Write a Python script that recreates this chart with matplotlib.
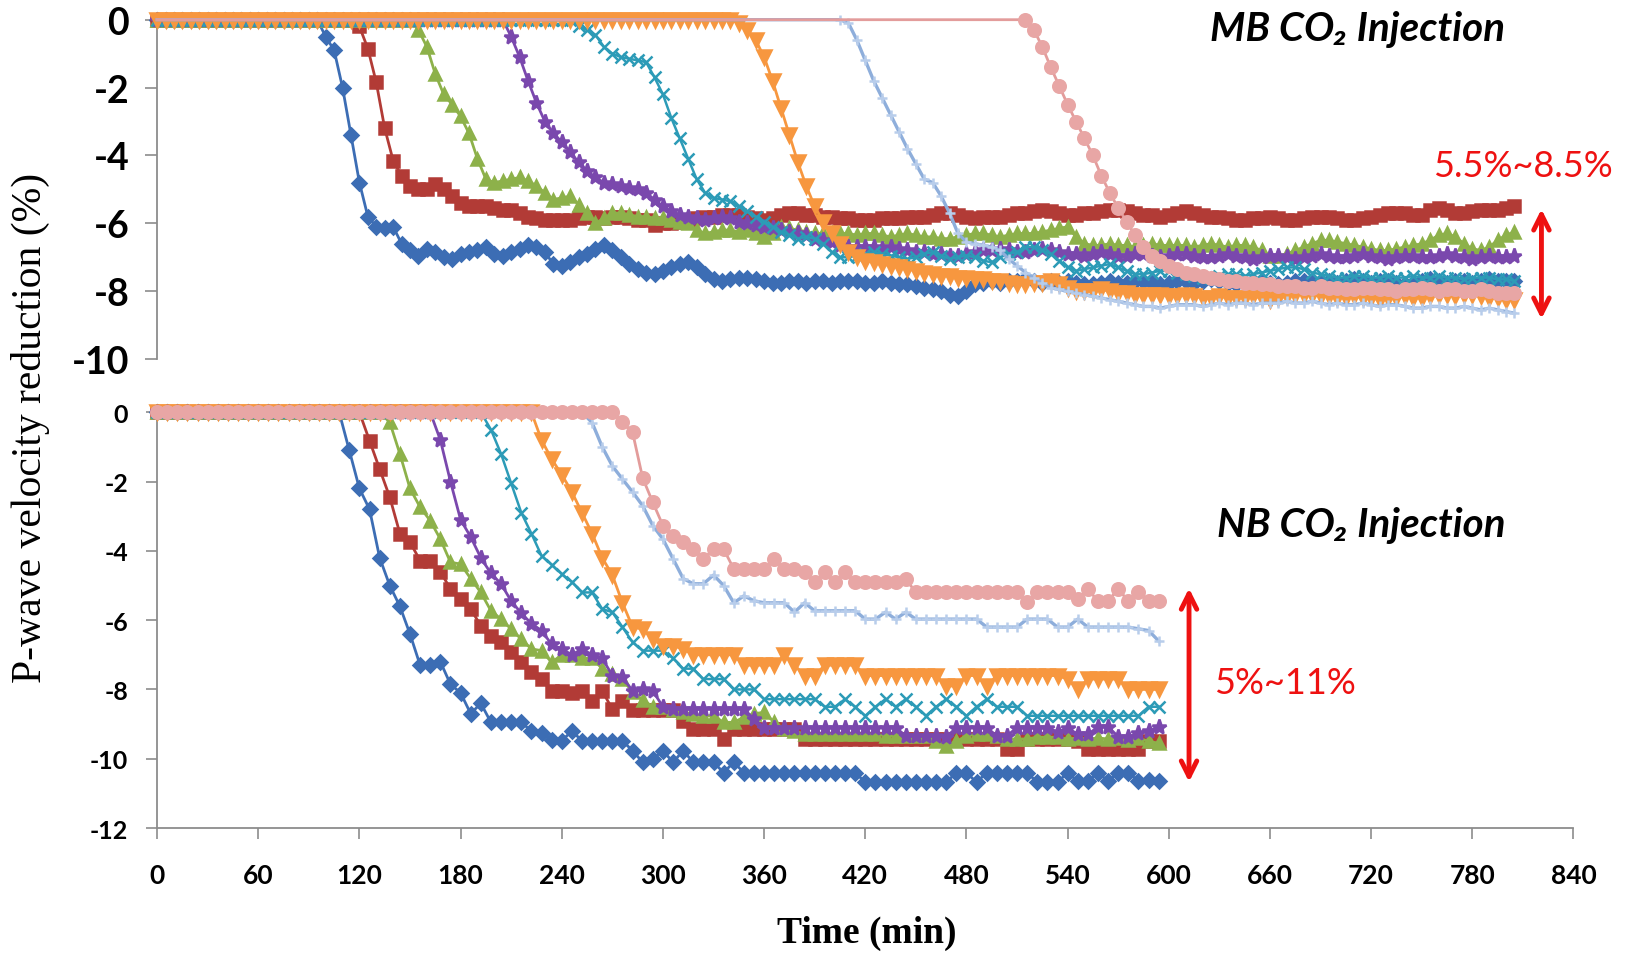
import matplotlib
matplotlib.use('Agg')
import matplotlib.pyplot as plt
import numpy as np
from matplotlib.patches import FancyArrowPatch

plt.rcParams['axes.unicode_minus'] = False

# logging intervals (min)
dt_mb = 5
dt_nb = 6

# ---- MB CO2 injection : P-wave velocity reduction (%) ----
mb_blue = [0.0]*20 + [
    -0.5, -0.9, -2.0, -3.4, -4.8, -5.8, -6.1, -6.15, -6.1, -6.6,
    -6.8, -6.95, -6.75, -6.85, -7.0, -7.05, -6.9, -6.85, -6.8, -6.7,
    -6.9, -6.95, -6.85, -6.75, -6.65, -6.7, -6.85, -7.2, -7.25, -7.15,
    -7.0, -6.9, -6.75, -6.65, -6.8, -7.0, -7.2, -7.35, -7.45, -7.5,
    -7.4, -7.3, -7.2, -7.15, -7.3, -7.5, -7.65, -7.7, -7.65, -7.6,
    -7.6, -7.65, -7.7, -7.75, -7.75, -7.7, -7.7, -7.75, -7.7, -7.7,
    -7.75, -7.7, -7.7, -7.7, -7.75, -7.75, -7.7, -7.75, -7.8, -7.8,
    -7.85, -7.9, -7.95, -8.0, -8.1, -8.15, -8.0, -7.8, -7.75, -7.7,
    -7.75, -7.7, -7.7, -7.65, -7.7, -7.75, -7.7, -7.75, -7.7, -7.75,
    -7.8, -7.8, -7.75, -7.7, -7.75, -7.75, -7.7, -7.7, -7.75, -7.8,
    -7.75, -7.7, -7.7, -7.75, -7.7, -7.65, -7.7, -7.75, -7.8, -7.75,
    -7.7, -7.7, -7.75, -7.8, -7.75, -7.7, -7.7, -7.75, -7.7, -7.7,
    -7.75, -7.7, -7.65, -7.7, -7.75, -7.7, -7.7, -7.75, -7.8, -7.75,
    -7.7, -7.65, -7.7, -7.75, -7.7, -7.7, -7.75, -7.7, -7.65, -7.7,
    -7.7, -7.7]
mb_red = [0.0]*24 + [
    -0.2, -0.85, -1.85, -3.2, -4.15, -4.6, -4.9, -5.0, -5.0, -4.85,
    -5.0, -5.2, -5.4, -5.5, -5.5, -5.5, -5.55, -5.6, -5.6, -5.7,
    -5.8, -5.85, -5.9, -5.9, -5.9, -5.9, -5.85, -5.8, -5.8, -5.85,
    -5.8, -5.8, -5.85, -5.9, -5.9, -6.05, -6.0, -6.0, -5.95, -5.9,
    -5.85, -5.8, -5.8, -5.75, -5.75, -5.75, -5.8, -5.85, -5.9, -5.85,
    -5.75, -5.7, -5.7, -5.75, -5.75, -5.8, -5.8, -5.85, -5.85, -5.9,
    -5.9, -5.9, -5.85, -5.85, -5.85, -5.8, -5.8, -5.8, -5.75, -5.7,
    -5.7, -5.75, -5.8, -5.85, -5.8, -5.8, -5.8, -5.75, -5.7, -5.7,
    -5.65, -5.6, -5.65, -5.7, -5.75, -5.75, -5.7, -5.7, -5.65, -5.6,
    -5.6, -5.65, -5.7, -5.75, -5.75, -5.8, -5.75, -5.7, -5.65, -5.7,
    -5.75, -5.8, -5.8, -5.85, -5.9, -5.9, -5.85, -5.85, -5.8, -5.85,
    -5.9, -5.9, -5.85, -5.8, -5.8, -5.8, -5.85, -5.9, -5.9, -5.85,
    -5.8, -5.75, -5.7, -5.7, -5.7, -5.75, -5.75, -5.6, -5.55, -5.6,
    -5.7, -5.7, -5.65, -5.6, -5.6, -5.6, -5.55, -5.5]
mb_green = [0.0]*31 + [
    -0.3, -0.8, -1.6, -2.2, -2.5, -2.85, -3.35, -4.1, -4.7, -4.8,
    -4.75, -4.7, -4.65, -4.75, -4.9, -5.1, -5.3, -5.25, -5.2, -5.45,
    -5.7, -6.0, -5.85, -5.7, -5.7, -5.75, -5.8, -5.8, -5.85, -5.85,
    -5.9, -5.95, -6.0, -6.2, -6.3, -6.25, -6.2, -6.2, -6.25, -6.2,
    -6.3, -6.4, -6.3, -6.1, -6.15, -6.2, -6.25, -6.3, -6.3, -6.3,
    -6.3, -6.3, -6.35, -6.3, -6.3, -6.35, -6.4, -6.35, -6.3, -6.35,
    -6.4, -6.4, -6.45, -6.45, -6.4, -6.35, -6.3, -6.3, -6.35, -6.4,
    -6.35, -6.3, -6.3, -6.3, -6.25, -6.2, -6.15, -6.1, -6.4, -6.6,
    -6.65, -6.65, -6.6, -6.65, -6.65, -6.7, -6.65, -6.6, -6.65, -6.65,
    -6.65, -6.65, -6.7, -6.65, -6.6, -6.65, -6.7, -6.65, -6.65, -6.7,
    -6.8, -6.95, -6.95, -6.9, -6.8, -6.7, -6.6, -6.5, -6.5, -6.55,
    -6.6, -6.65, -6.7, -6.75, -6.8, -6.8, -6.75, -6.7, -6.65, -6.6,
    -6.5, -6.35, -6.3, -6.4, -6.6, -6.75, -6.8, -6.7, -6.5, -6.35,
    -6.25]
mb_purple = [0.0]*42 + [
    -0.5, -1.1, -1.8, -2.45, -3.0, -3.35, -3.6, -3.9, -4.2, -4.45,
    -4.65, -4.8, -4.85, -4.9, -4.95, -5.0, -5.1, -5.3, -5.5, -5.65,
    -5.75, -5.8, -5.85, -5.9, -5.85, -5.8, -5.85, -5.95, -6.0, -6.05,
    -6.1, -6.15, -6.2, -6.25, -6.3, -6.35, -6.45, -6.5, -6.55, -6.65,
    -6.7, -6.7, -6.7, -6.7, -6.75, -6.7, -6.75, -6.8, -6.85, -6.85,
    -6.9, -6.9, -6.95, -6.95, -6.9, -6.85, -6.8, -6.8, -6.75, -6.8,
    -6.85, -6.85, -6.8, -6.75, -6.8, -6.85, -6.9, -6.9, -6.95, -6.9,
    -6.85, -6.9, -6.95, -6.95, -6.9, -6.9, -6.95, -7.0, -6.95, -6.9,
    -6.9, -6.95, -7.0, -7.0, -6.95, -6.9, -6.95, -7.0, -7.05, -7.0,
    -6.95, -6.95, -7.0, -7.05, -7.0, -6.95, -6.9, -6.95, -7.0, -7.0,
    -6.95, -6.9, -6.95, -7.0, -7.05, -7.0, -6.95, -6.95, -7.0, -7.0,
    -6.95, -6.9, -6.95, -7.0, -7.05, -7.0, -6.95, -7.0, -7.0, -6.95]
mb_teal = [0.0]*50 + [
    -0.2, -0.3, -0.45, -0.8, -1.0, -1.1, -1.15, -1.2, -1.25, -1.7,
    -2.2, -2.9, -3.5, -4.1, -4.7, -5.1, -5.25, -5.3, -5.35, -5.5,
    -5.65, -5.8, -5.95, -6.1, -6.25, -6.35, -6.45, -6.4, -6.45, -6.6,
    -6.85, -7.0, -7.0, -6.95, -6.9, -6.85, -6.9, -6.95, -7.0, -7.05,
    -7.0, -6.9, -6.85, -6.95, -7.05, -7.0, -6.95, -7.0, -7.1, -7.15,
    -7.0, -6.9, -6.85, -6.7, -6.7, -6.8, -6.9, -7.1, -7.3, -7.4,
    -7.35, -7.3, -7.25, -7.2, -7.3, -7.4, -7.5, -7.5, -7.45, -7.4,
    -7.4, -7.45, -7.5, -7.55, -7.6, -7.6, -7.55, -7.5, -7.5, -7.55,
    -7.5, -7.45, -7.4, -7.35, -7.3, -7.3, -7.35, -7.45, -7.5, -7.55,
    -7.6, -7.6, -7.55, -7.55, -7.6, -7.6, -7.55, -7.6, -7.6, -7.55,
    -7.6, -7.6, -7.55, -7.6, -7.6, -7.65, -7.6, -7.6, -7.6, -7.65,
    -7.65, -7.7]
mb_orange = [0.0]*69 + [
    -0.1, -0.3, -0.6, -1.1, -1.8, -2.6, -3.4, -4.2, -4.9, -5.5,
    -5.95, -6.3, -6.6, -6.85, -7.0, -7.1, -7.15, -7.2, -7.25, -7.3,
    -7.35, -7.4, -7.45, -7.5, -7.55, -7.55, -7.6, -7.6, -7.65, -7.65,
    -7.7, -7.7, -7.75, -7.8, -7.8, -7.75, -7.75, -7.7, -7.8, -7.9,
    -8.0, -8.0, -8.0, -7.95, -8.0, -8.05, -8.05, -8.1, -8.1, -8.1,
    -8.1, -8.15, -8.15, -8.1, -8.15, -8.2, -8.2, -8.15, -8.2, -8.2,
    -8.2, -8.15, -8.2, -8.25, -8.2, -8.15, -8.1, -8.1, -8.1, -8.15,
    -8.15, -8.2, -8.2, -8.15, -8.2, -8.2, -8.25, -8.2, -8.2, -8.15,
    -8.2, -8.2, -8.15, -8.1, -8.1, -8.15, -8.1, -8.1, -8.15, -8.2,
    -8.2, -8.25, -8.25]
mb_lightblue = [0.0]*82 + [
    -0.1, -0.6, -1.2, -1.8, -2.3, -2.8, -3.3, -3.8, -4.25, -4.7,
    -4.8, -5.2, -5.7, -6.3, -6.55, -6.6, -6.65, -6.7, -6.8, -7.05,
    -7.25, -7.45, -7.6, -7.75, -7.9, -7.95, -8.0, -8.05, -8.1, -8.15,
    -8.2, -8.25, -8.3, -8.35, -8.4, -8.45, -8.45, -8.5, -8.45, -8.4,
    -8.4, -8.4, -8.45, -8.4, -8.35, -8.4, -8.35, -8.35, -8.4, -8.35,
    -8.35, -8.35, -8.3, -8.35, -8.35, -8.3, -8.35, -8.4, -8.35, -8.4,
    -8.4, -8.35, -8.4, -8.45, -8.4, -8.4, -8.45, -8.5, -8.5, -8.45,
    -8.45, -8.5, -8.5, -8.45, -8.5, -8.55, -8.5, -8.55, -8.6, -8.65]
mb_pink = [0.0]*104 + [
    -0.3, -0.8, -1.4, -1.95, -2.5, -3.0, -3.5, -4.0, -4.6, -5.1,
    -5.55, -5.95, -6.35, -6.7, -6.95, -7.1, -7.25, -7.35, -7.45, -7.5,
    -7.55, -7.6, -7.65, -7.7, -7.7, -7.75, -7.75, -7.8, -7.8, -7.85,
    -7.85, -7.85, -7.9, -7.9, -7.85, -7.9, -7.9, -7.95, -7.95, -7.9,
    -7.9, -7.95, -7.95, -8.0, -7.95, -7.95, -7.9, -7.95, -8.0, -7.95,
    -7.95, -8.0, -8.0, -7.95, -8.0, -8.05, -8.05, -8.05]

# ---- NB CO2 injection : P-wave velocity reduction (%) ----
nb_blue = [0.0]*19 + [
    -1.1, -2.2, -2.8, -4.2, -5.0, -5.6, -6.4, -7.3, -7.3, -7.2,
    -7.85, -8.1, -8.7, -8.4, -8.95, -8.95, -8.95, -8.95, -9.2, -9.25,
    -9.45, -9.48, -9.2, -9.48, -9.48, -9.48, -9.48, -9.48, -9.77, -10.1,
    -10.0, -9.77, -10.1, -9.77, -10.1, -10.1, -10.1, -10.4, -10.1, -10.4,
    -10.4, -10.4, -10.4, -10.4, -10.4, -10.4, -10.4, -10.4, -10.4, -10.4,
    -10.4, -10.68, -10.68, -10.68, -10.68, -10.68, -10.68, -10.68, -10.68, -10.68,
    -10.4, -10.4, -10.68, -10.4, -10.4, -10.4, -10.4, -10.4, -10.68, -10.68,
    -10.68, -10.4, -10.65, -10.65, -10.4, -10.65, -10.4, -10.4, -10.65, -10.6, -10.65]
nb_red = [0.0]*21 + [
    -0.82, -1.64, -2.45, -3.5, -3.75, -4.28, -4.28, -4.6, -5.1, -5.4,
    -5.68, -6.16, -6.45, -6.64, -6.93, -7.22, -7.5, -7.7, -8.04, -8.04,
    -8.1, -8.04, -8.33, -8.04, -8.57, -8.33, -8.6, -8.6, -8.6, -8.6,
    -8.6, -8.9, -9.14, -9.14, -9.14, -9.43, -9.14, -9.14, -9.14, -9.14,
    -9.14, -9.14, -9.14, -9.43, -9.43, -9.43, -9.43, -9.43, -9.43, -9.43,
    -9.43, -9.43, -9.43, -9.43, -9.43, -9.43, -9.43, -9.43, -9.43, -9.43,
    -9.43, -9.43, -9.43, -9.72, -9.72, -9.43, -9.43, -9.43, -9.43, -9.43,
    -9.5, -9.72, -9.72, -9.72, -9.72, -9.72, -9.72, -9.5, -9.5]
nb_green = [0.0]*23 + [
    -0.29, -1.2, -2.2, -2.74, -3.13, -3.66, -4.33, -4.38, -4.8, -5.2,
    -5.73, -5.97, -6.26, -6.55, -6.83, -6.88, -7.22, -7.0, -7.0, -7.1,
    -7.1, -7.4, -7.55, -7.7, -8.08, -8.3, -8.5, -8.5, -8.6, -8.66,
    -8.7, -8.76, -8.76, -8.95, -8.95, -8.8, -8.7, -8.66, -8.95, -9.14,
    -9.2, -9.29, -9.29, -9.29, -9.29, -9.29, -9.29, -9.29, -9.29, -9.34,
    -9.34, -9.34, -9.34, -9.34, -9.5, -9.62, -9.5, -9.34, -9.29, -9.29,
    -9.34, -9.43, -9.43, -9.43, -9.38, -9.38, -9.38, -9.43, -9.4, -9.43,
    -9.4, -9.43, -9.4, -9.45, -9.4, -9.5, -9.55]
nb_purple = [0.0]*28 + [
    -0.8, -2.0, -3.1, -3.6, -4.2, -4.65, -4.95, -5.45, -5.8, -6.1,
    -6.3, -6.7, -6.83, -7.0, -6.83, -7.0, -7.1, -7.6, -7.65, -8.04,
    -8.0, -8.04, -8.5, -8.57, -8.57, -8.57, -8.57, -8.57, -8.57, -8.57,
    -8.57, -8.85, -9.1, -9.1, -9.1, -9.1, -9.1, -9.1, -9.1, -9.1,
    -9.1, -9.1, -9.1, -9.1, -9.1, -9.1, -9.34, -9.34, -9.34, -9.34,
    -9.38, -9.1, -9.1, -9.1, -9.1, -9.34, -9.34, -9.1, -9.1, -9.1,
    -9.1, -9.24, -9.1, -9.3, -9.3, -9.08, -9.08, -9.36, -9.36, -9.27,
    -9.2, -9.08]
nb_teal = [0.0]*33 + [
    -0.5, -1.2, -2.05, -2.9, -3.5, -4.14, -4.4, -4.67, -4.9, -5.2,
    -5.2, -5.68, -5.77, -6.2, -6.64, -6.88, -6.88, -6.88, -7.1, -7.4,
    -7.4, -7.7, -7.7, -7.7, -8.0, -8.0, -8.0, -8.28, -8.28, -8.28,
    -8.28, -8.28, -8.28, -8.5, -8.5, -8.28, -8.5, -8.76, -8.5, -8.28,
    -8.5, -8.28, -8.5, -8.76, -8.5, -8.28, -8.5, -8.76, -8.5, -8.28,
    -8.5, -8.5, -8.5, -8.76, -8.76, -8.76, -8.76, -8.76, -8.76, -8.76,
    -8.76, -8.76, -8.76, -8.76, -8.76, -8.5, -8.5]
nb_orange = [0.0]*38 + [
    -0.8, -1.35, -1.8, -2.3, -2.9, -3.5, -4.2, -4.7, -5.5, -6.2,
    -6.26, -6.55, -6.74, -6.74, -6.83, -7.0, -7.0, -7.0, -7.0, -7.0,
    -7.3, -7.3, -7.3, -7.3, -7.0, -7.3, -7.6, -7.6, -7.3, -7.3,
    -7.3, -7.3, -7.6, -7.6, -7.6, -7.6, -7.6, -7.6, -7.6, -7.6,
    -7.9, -7.9, -7.6, -7.6, -7.9, -7.6, -7.6, -7.6, -7.6, -7.6,
    -7.6, -7.6, -7.7, -8.0, -7.7, -7.7, -7.7, -7.7, -8.0, -8.0,
    -8.0, -8.0]
nb_lightblue = [0.0]*43 + [
    -0.3, -1.0, -1.55, -1.93, -2.3, -2.7, -3.27, -3.66, -4.23, -4.8,
    -4.95, -4.95, -4.7, -5.0, -5.5, -5.3, -5.44, -5.5, -5.5, -5.5,
    -5.77, -5.5, -5.73, -5.73, -5.73, -5.73, -5.73, -5.97, -5.97, -5.77,
    -5.97, -5.77, -5.97, -5.97, -5.97, -5.97, -5.97, -5.97, -5.97, -6.2,
    -6.2, -6.2, -6.2, -5.97, -5.97, -5.97, -6.2, -6.2, -5.97, -6.2,
    -6.2, -6.2, -6.2, -6.2, -6.25, -6.3, -6.6]
nb_pink = [0.0]*46 + [
    -0.29, -0.58, -1.9, -2.6, -3.27, -3.56, -3.75, -3.95, -4.23, -3.95,
    -3.95, -4.52, -4.52, -4.52, -4.52, -4.23, -4.52, -4.52, -4.62, -4.9,
    -4.62, -4.9, -4.62, -4.9, -4.9, -4.9, -4.9, -4.9, -4.81, -5.2,
    -5.2, -5.2, -5.2, -5.2, -5.2, -5.2, -5.2, -5.2, -5.2, -5.2,
    -5.49, -5.2, -5.2, -5.2, -5.2, -5.4, -5.1, -5.45, -5.45, -5.1,
    -5.45, -5.2, -5.45, -5.45]

x_ticks = list(range(0, 841, 60))

mb_series = [mb_blue, mb_red, mb_green, mb_purple, mb_teal, mb_orange, mb_lightblue, mb_pink]
nb_series = [nb_blue, nb_red, nb_green, nb_purple, nb_teal, nb_orange, nb_lightblue, nb_pink]

# excel-like series styles
colors = ['#3c6db4', '#b23b36', '#8db14a', '#7a48ad', '#2c9bb7', '#f7973f', '#8eaedb', '#e39c9b']
mcolors = ['#3c6db4', '#b23b36', '#8db14a', '#7a48ad', '#2c9bb7', '#f7973f', '#b8cdeb', '#e8a6a5']
markers = ['D', 's', '^', '*', 'x', 'v', '+', 'o']
msizes = [7.5, 8, 9, 11, 8, 10, 7, 9]
lwidths = [2.0, 2.0, 2.0, 2.0, 1.8, 2.0, 2.4, 2.0]

tick_font = 'Lato'
grey = '#8c8c8c'

fig = plt.figure(figsize=(16.26, 9.54), dpi=100)
ax_top = fig.add_axes([0.0966, 0.6226, 0.8711, 0.3557])
ax_bot = fig.add_axes([0.0966, 0.131, 0.8711, 0.4358])


def draw(ax, series, dt, skip_zero_markers=()):
    for i, vals in enumerate(series):
        v = np.array(vals)
        t = np.arange(len(v)) * dt
        mk = None
        if i in skip_zero_markers:
            first = int(np.argmax(v < 0)) - 1
            mk = slice(max(first, 0), None)
        ax.plot(t, v, color=colors[i], lw=lwidths[i], marker=markers[i], ms=msizes[i],
                mfc=mcolors[i], mec=mcolors[i], mew=1.8, markevery=mk,
                clip_on=False, zorder=3 + i)


draw(ax_top, mb_series, dt_mb, skip_zero_markers=(6, 7))
draw(ax_bot, nb_series, dt_nb)

for ax in (ax_top, ax_bot):
    ax.set_xlim(0, 840)
    ax.spines['top'].set_visible(False)
    ax.spines['right'].set_visible(False)
    ax.spines['left'].set_color(grey)
    ax.spines['left'].set_linewidth(1.3)
    ax.spines['bottom'].set_color(grey)
    ax.spines['bottom'].set_linewidth(1.3)

ax_top.set_ylim(-10, 0)
ax_top.set_yticks(range(-10, 1, 2))
ax_top.spines['bottom'].set_visible(False)
ax_top.xaxis.set_visible(False)
ax_top.tick_params(axis='y', direction='out', length=9, width=1.2, color=grey,
                   labelsize=27, pad=11)

ax_bot.set_ylim(-12, 0)
ax_bot.set_yticks(range(-12, 1, 2))
ax_bot.set_xticks(x_ticks)
ax_bot.tick_params(axis='y', direction='out', length=8, width=1.2, color=grey,
                   labelsize=18, pad=13)
ax_bot.tick_params(axis='x', direction='out', length=8, width=1.2, color=grey,
                   labelsize=19, pad=17)

for ax in (ax_top, ax_bot):
    for lab in ax.get_xticklabels() + ax.get_yticklabels():
        lab.set_fontfamily(tick_font)
        lab.set_fontweight('bold')

fig.text(0.019, 0.551, 'P-wave velocity reduction (%)', rotation=90,
         ha='center', va='center', fontsize=30, family='Liberation Serif')
fig.text(0.533, 0.022, 'Time (min)', ha='center', va='center', fontsize=27,
         family='Liberation Serif', fontweight='bold')

# panel titles
ax_top.text(712, -0.25, 'MB CO\u2082 Injection', ha='center', va='center',
            fontsize=29, fontweight='bold', fontstyle='italic',
            family=['Lato', 'DejaVu Sans'])
ax_bot.text(714, -3.25, 'NB CO\u2082 Injection', ha='center', va='center',
            fontsize=29, fontweight='bold', fontstyle='italic',
            family=['Lato', 'DejaVu Sans'])

# spread of the final reductions
red = '#ee1111'
ax_top.text(810, -4.3, '5.5%~8.5%', ha='center', va='center', fontsize=26,
            color=red, family='Lato')
ax_bot.text(669, -7.8, '5%~11%', ha='center', va='center', fontsize=26,
            color=red, family='Lato')
ax_top.add_patch(FancyArrowPatch((821, -5.5), (821, -8.9), arrowstyle='<->',
                                 mutation_scale=28, lw=3.5, color=red,
                                 clip_on=False, zorder=20))
ax_bot.add_patch(FancyArrowPatch((612, -5.0), (612, -10.75), arrowstyle='<->',
                                 mutation_scale=28, lw=3.5, color=red,
                                 clip_on=False, zorder=20))

fig.savefig('out.png', dpi=100, facecolor='white')
